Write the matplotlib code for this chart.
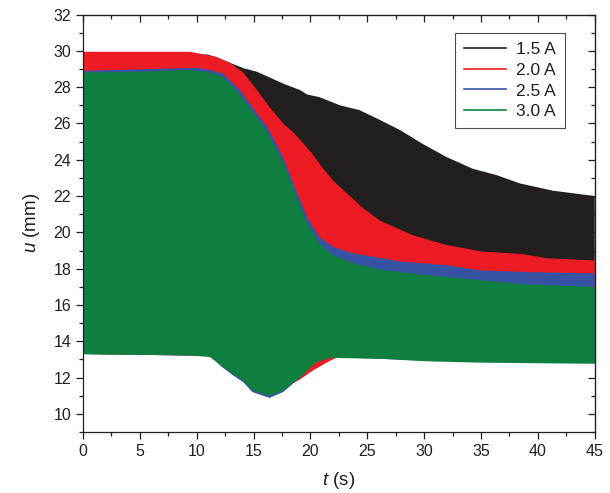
import matplotlib
matplotlib.use('Agg')
import matplotlib.pyplot as plt
from matplotlib.lines import Line2D
from matplotlib.ticker import MultipleLocator

plt.rcParams['font.family'] = ['Liberation Sans', 'DejaVu Sans']
plt.rcParams['mathtext.fontset'] = 'custom'
plt.rcParams['mathtext.rm'] = 'Liberation Sans'
plt.rcParams['mathtext.it'] = 'Liberation Sans:italic'

# envelopes of the oscillating displacement signal
labels = ['1.5 A', '2.0 A', '2.5 A', '3.0 A']
colors = ['#231f20', '#ed1c24', '#3953a4', '#0e7f3e']

t_15_hi = [0, 11, 12.9, 14.1, 15.3, 17.6, 19.1, 19.7, 20.8, 22.6, 24.3, 26.1, 27.9, 29.8, 32, 34.3, 36.4, 38.4, 41.3, 45]
u_15_hi = [29.8, 29.8, 29.35, 29.05, 28.85, 28.2, 27.84, 27.6, 27.45, 27.0, 26.74, 26.2, 25.63, 24.9, 24.14, 23.5, 23.15, 22.7, 22.3, 22.0]
t_15_lo = [0, 22, 30, 45]
u_15_lo = [13.3, 13.15, 13.0, 12.9]

t_20_hi = [0, 9.4, 11.7, 12.9, 14.1, 15.3, 16.4, 17.6, 18.5, 19.3, 20.2, 21.0, 22.0, 23.2, 24.5, 26.1, 29.0, 32.0, 35.0, 38.7, 40.8, 45]
u_20_hi = [29.95, 29.95, 29.68, 29.35, 28.8, 27.84, 26.9, 26.0, 25.5, 24.95, 24.3, 23.6, 22.85, 22.15, 21.4, 20.65, 19.84, 19.3, 18.95, 18.8, 18.57, 18.45]
t_20_lo = [0, 11, 12.3, 13.2, 14.1, 14.9, 16.4, 17.6, 18.5, 19.1, 20.0, 20.8, 21.5, 22.3, 23, 30, 45]
u_20_lo = [13.3, 13.2, 12.65, 12.3, 11.9, 11.4, 11.1, 11.35, 11.7, 11.9, 12.3, 12.6, 12.85, 13.1, 13.12, 13.0, 12.85]

t_25_hi = [0, 10, 11.2, 12.3, 13.8, 14.9, 16.2, 17.0, 17.7, 18.5, 19.7, 20.8, 22.0, 23.7, 26.1, 27.9, 32, 34.9, 38.7, 45]
u_25_hi = [28.9, 29.07, 28.94, 28.76, 27.84, 26.9, 25.8, 24.9, 23.98, 22.7, 20.85, 19.73, 19.2, 18.85, 18.6, 18.4, 18.19, 17.91, 17.82, 17.74]
t_25_lo = [0, 11.2, 12.3, 13.2, 14.1, 14.9, 16.4, 17.6, 18.5, 19.1, 20.5, 21.9, 22.9, 30, 45]
u_25_lo = [13.33, 13.18, 12.55, 12.12, 11.74, 11.2, 10.88, 11.2, 11.68, 12.0, 12.88, 13.12, 13.1, 12.95, 12.8]

t_30_hi = [0, 5, 9.4, 11.2, 12.3, 13.8, 14.9, 16.2, 17.7, 18.5, 19.7, 20.8, 22.0, 23.7, 26.1, 27.9, 32, 34.9, 38.7, 45]
u_30_hi = [28.8, 28.85, 28.95, 28.8, 28.55, 27.6, 26.65, 25.55, 23.7, 22.4, 20.5, 19.35, 18.75, 18.3, 17.95, 17.8, 17.54, 17.36, 17.14, 16.99]
t_30_lo = [0, 9.4, 11.2, 12.3, 13.2, 14.1, 14.9, 16.4, 17.6, 18.5, 19.1, 20.5, 21.9, 22.9, 26, 30, 35, 45]
u_30_lo = [13.28, 13.22, 13.13, 12.57, 12.2, 11.84, 11.3, 11.0, 11.3, 11.75, 12.0, 12.85, 13.1, 13.07, 13.04, 12.9, 12.82, 12.76]

bands = [
    (t_15_hi, u_15_hi, t_15_lo, u_15_lo),
    (t_20_hi, u_20_hi, t_20_lo, u_20_lo),
    (t_25_hi, u_25_hi, t_25_lo, u_25_lo),
    (t_30_hi, u_30_hi, t_30_lo, u_30_lo),
]

fig = plt.figure(figsize=(6.1, 4.93), dpi=100)
ax = fig.add_axes([0.136, 0.1237, 0.839, 0.8467])

for (th, uh, tl, ul), c in zip(bands, colors):
    xs = th + tl[::-1]
    ys = uh + ul[::-1]
    ax.fill(xs, ys, color=c, lw=0)

ax.set_xlim(0, 45)
ax.set_ylim(9, 32)
ax.xaxis.set_major_locator(MultipleLocator(5))
ax.xaxis.set_minor_locator(MultipleLocator(2.5))
ax.yaxis.set_major_locator(MultipleLocator(2))
ax.yaxis.set_minor_locator(MultipleLocator(1))
ax.tick_params(which='both', direction='out', labelsize=11.5, colors='#231f20', width=0.9)
ax.tick_params(which='major', length=5)
ax.tick_params(which='minor', length=3)
for s in ax.spines.values():
    s.set_color('#231f20')
    s.set_linewidth(0.9)

# mirrored ticks on top and right, pointing inward
top = ax.secondary_xaxis('top')
top.xaxis.set_major_locator(MultipleLocator(5))
top.xaxis.set_minor_locator(MultipleLocator(2.5))
top.tick_params(which='both', direction='in', labeltop=False, width=0.9, colors='#231f20')
top.tick_params(which='major', length=5)
top.tick_params(which='minor', length=3)
right = ax.secondary_yaxis('right')
right.yaxis.set_major_locator(MultipleLocator(2))
right.yaxis.set_minor_locator(MultipleLocator(1))
right.tick_params(which='both', direction='in', labelright=False, width=0.9, colors='#231f20')
right.tick_params(which='major', length=5)
right.tick_params(which='minor', length=3)

ax.set_xlabel('$\\it{t}$ (s)', fontsize=13.5, color='#231f20', labelpad=8)
ax.set_ylabel('$\\it{u}$ (mm)', fontsize=13.5, color='#231f20', labelpad=8)

handles = [Line2D([], [], color=c, lw=1.2) for c in colors]
leg = ax.legend(handles, labels, loc='upper right', bbox_to_anchor=(0.941, 0.956),
                borderaxespad=0, fontsize=12.5, frameon=True, fancybox=False,
                edgecolor='#231f20', handlelength=2.4, handletextpad=0.6,
                labelspacing=0.33, borderpad=0.5)
leg.get_frame().set_linewidth(0.8)
for txt in leg.get_texts():
    txt.set_color('#231f20')

plt.savefig('out.png', dpi=100)
